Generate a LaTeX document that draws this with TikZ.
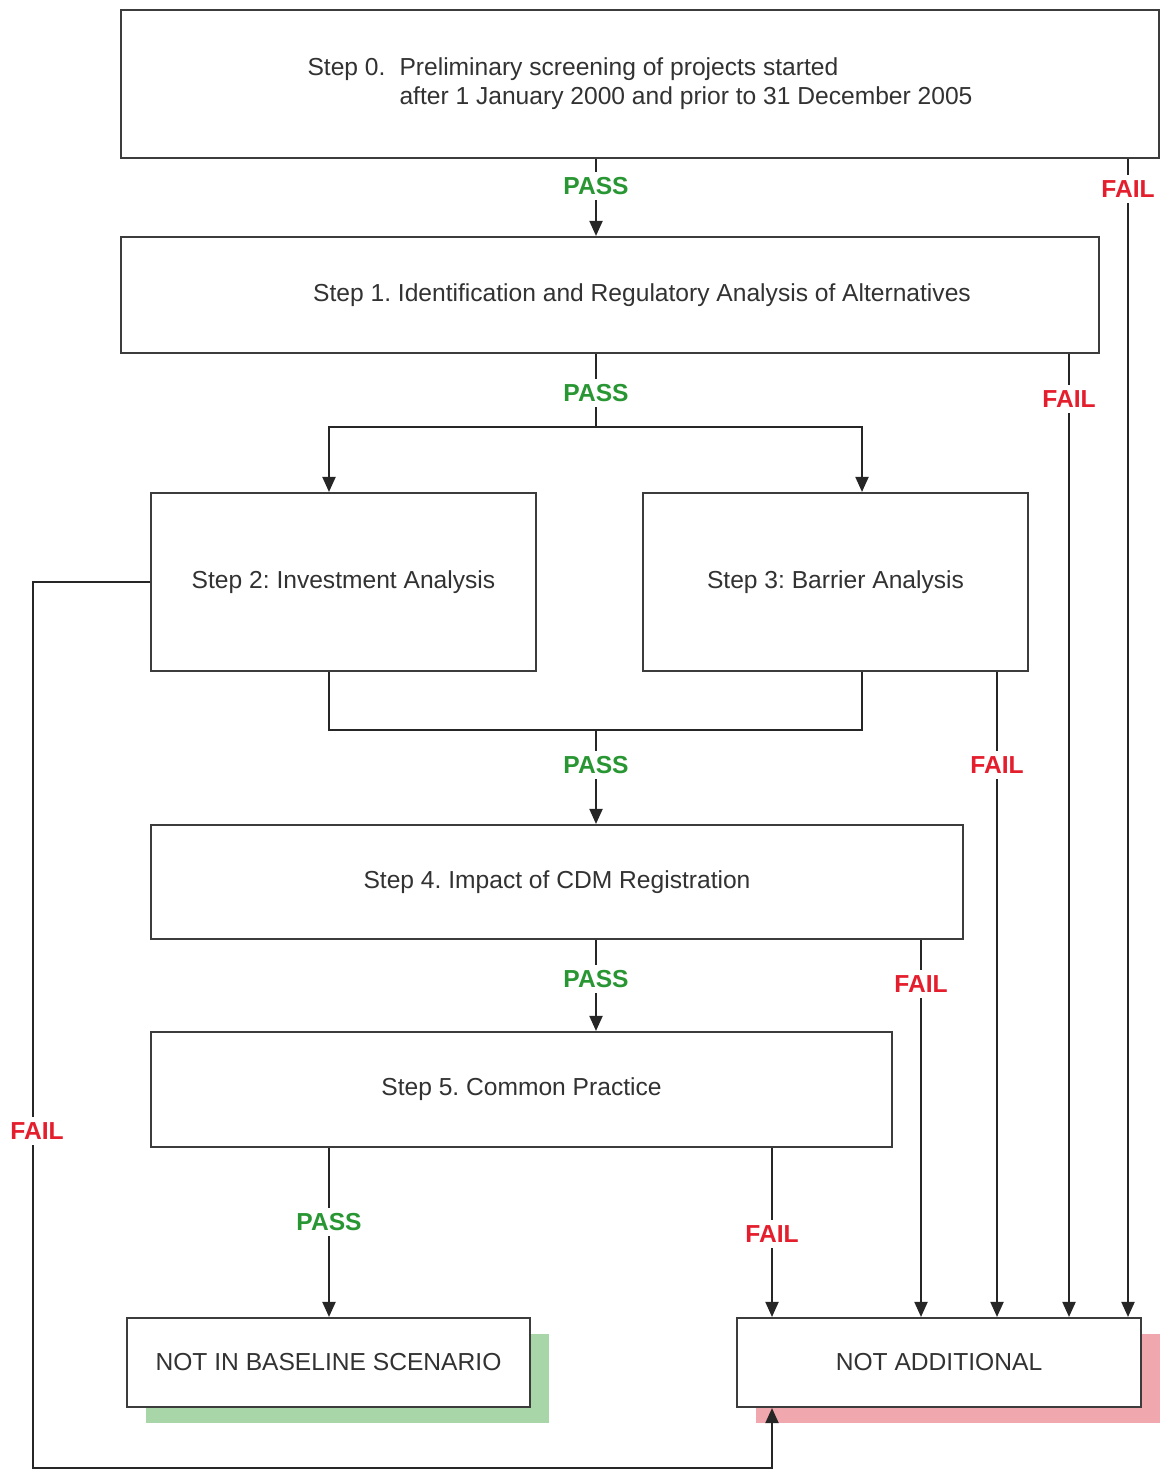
\documentclass[tikz,border=0pt]{standalone}
\usepackage{fontspec}
\setmainfont{Liberation Sans}
\usepackage{tikz}
\usetikzlibrary{calc,positioning,arrows.meta,shadows}
\definecolor{boxgray}{RGB}{60,60,60}
\definecolor{txtgray}{RGB}{50,50,50}
\definecolor{passgreen}{RGB}{40,150,50}
\definecolor{failred}{RGB}{228,30,45}
\definecolor{shadegreen}{RGB}{168,214,168}
\definecolor{shadepink}{RGB}{240,168,174}
\frenchspacing

\tikzset{
  stepbox/.style={draw=boxgray,line width=1.2pt,fill=white,inner sep=0pt,text=txtgray,font=\fontsize{14}{17}\selectfont},
  flow/.style={draw=black!85,line width=1.1pt},
  arr/.style={flow,-{Triangle[length=3mm,width=2.6mm]}},
  passlbl/.style={fill=white,inner sep=3pt,text=passgreen,font=\fontsize{14}{17}\selectfont\bfseries},
  faillbl/.style={passlbl,text=failred},
}

\begin{document}
\begin{tikzpicture}[x=0.02cm,y=-0.02cm]
        \useasboundingbox (0,0) rectangle (1161,1470);
        \node[stepbox,minimum width=20.76cm,minimum height=2.96cm] (s0) at (640,84)
          {\begin{tabular}{@{}l@{\hspace{8pt}}l@{}}Step 0. & Preliminary screening of projects started\\ & after 1 January 2000 and prior to 31 December 2005\end{tabular}};
        \node[stepbox,minimum width=19.56cm,minimum height=2.32cm] (s1) at (610,295)
          {\hspace*{1.28cm}Step 1. Identification and Regulatory Analysis of Alternatives};
        \node[stepbox,minimum width=7.7cm,minimum height=3.56cm] (s2) at (343.5,582) {Step 2: Investment Analysis};
        \node[stepbox,minimum width=7.7cm,minimum height=3.56cm] (s3) at (835.5,582) {Step 3: Barrier Analysis};
        \node[stepbox,minimum width=16.24cm,minimum height=2.28cm] (s4) at (557,882) {Step 4. Impact of CDM Registration};
        \node[stepbox,minimum width=14.82cm,minimum height=2.3cm] (s5) at (521.5,1089.5) {Step 5. Common Practice};
        \node[stepbox,minimum width=8.06cm,minimum height=1.78cm,
          drop shadow={shadow xshift=0.38cm,shadow yshift=-0.32cm,fill=shadegreen,opacity=1}] (nb) at (328.5,1362.5) {NOT IN BASELINE SCENARIO};
        \node[stepbox,minimum width=8.08cm,minimum height=1.78cm,
          drop shadow={shadow xshift=0.38cm,shadow yshift=-0.32cm,fill=shadepink,opacity=1}] (na) at (939,1362.5) {NOT ADDITIONAL};
        \coordinate (colA) at (596,0);
        \coordinate (colB) at (329,0);
        \coordinate (colC) at (862,0);
        \coordinate (colF0) at (1128,0);
        \coordinate (colF1) at (1069,0);
        \coordinate (colF3) at (997,0);
        \coordinate (colF4) at (921,0);
        \coordinate (colF5) at (772,0);
        \coordinate (split) at (596,427);
        \coordinate (join) at (596,730);
        \coordinate (corner) at (33,1468);
        \draw[arr] (s0.south -| colA) -- (s1.north -| colA);
        \draw[arr] (s0.south -| colF0) -- (na.north -| colF0);
        \draw[flow] (s1.south -| colA) -- (split);
        \draw[arr] (split) -| (s2.north -| colB);
        \draw[arr] (split) -| (s3.north -| colC);
        \draw[arr] (s1.south -| colF1) -- (na.north -| colF1);
        \draw[flow] (s2.south -| colB) |- (join) -| (s3.south -| colC);
        \draw[arr] (join) -- (s4.north -| join);
        \draw[arr] (s3.south -| colF3) -- (na.north -| colF3);
        \draw[arr] (s2.west) -| (corner) -| (na.south -| colF5);
        \draw[arr] (s4.south -| colA) -- (s5.north -| colA);
        \draw[arr] (s4.south -| colF4) -- (na.north -| colF4);
        \draw[arr] (s5.south -| colB) -- (nb.north -| colB);
        \draw[arr] (s5.south -| colF5) -- (na.north -| colF5);
        \node[passlbl] (p0) at (596,186) {PASS};
        \node[passlbl] (p1) at (596,393) {PASS};
        \node[passlbl] (p23) at (596,765) {PASS};
        \node[passlbl] (p4) at (596,979) {PASS};
        \node[passlbl] (p5) at (329,1222) {PASS};
        \node[faillbl] (f0) at (1128,189) {FAIL};
        \node[faillbl] (f1) at (1069,399) {FAIL};
        \node[faillbl] (f3) at (997,765) {FAIL};
        \node[faillbl] (f4) at (921,984) {FAIL};
        \node[faillbl] (f5) at (772,1234) {FAIL};
        \node[faillbl] (fl) at (37,1131) {FAIL};
      \end{tikzpicture}
\end{document}
